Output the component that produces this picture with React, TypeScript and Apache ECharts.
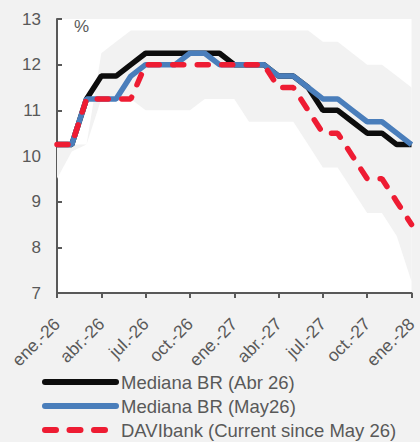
import React, { useRef, useEffect } from "react";
import * as echarts from "echarts";

const months = [
  "ene.-26", "feb.-26", "mar.-26", "abr.-26", "may.-26", "jun.-26", "jul.-26", "ago.-26", "sept.-26",
  "oct.-26", "nov.-26", "dic.-26", "ene.-27", "feb.-27", "mar.-27", "abr.-27", "may.-27", "jun.-27",
  "jul.-27", "ago.-27", "sept.-27", "oct.-27", "nov.-27", "dic.-27", "ene.-28",
];

const medianaAbr = [10.25, 10.25, 11.25, 11.75, 11.75, 12.0, 12.25, 12.25, 12.25, 12.25, 12.25, 12.25, 12.0, 12.0, 12.0, 11.75, 11.75, 11.5, 11.0, 11.0, 10.75, 10.5, 10.5, 10.25, 10.25];
const medianaMay = [10.25, 10.25, 11.25, 11.25, 11.25, 11.75, 12.0, 12.0, 12.0, 12.25, 12.25, 12.0, 12.0, 12.0, 12.0, 11.75, 11.75, 11.5, 11.25, 11.25, 11.0, 10.75, 10.75, 10.5, 10.25];
const davibank = [10.25, 10.25, 11.25, 11.25, 11.25, 11.25, 12.0, 12.0, 12.0, 12.0, 12.0, 12.0, 12.0, 12.0, 12.0, 11.5, 11.5, 11.0, 10.5, 10.5, 10.0, 9.5, 9.5, 9.0, 8.5];

const rangeLow = [9.5, 10.1, 10.25, 11.25, 11.25, 11.25, 11.0, 11.0, 11.0, 11.0, 11.25, 11.25, 11.25, 10.75, 10.75, 10.75, 10.75, 10.25, 9.75, 9.75, 9.25, 8.75, 8.75, 8.25, 7.25];
const rangeHigh = [10.25, 10.25, 10.25, 12.25, 12.5, 12.75, 12.75, 12.75, 12.75, 12.75, 12.75, 12.75, 12.75, 12.75, 12.75, 12.75, 12.75, 12.75, 12.5, 12.5, 12.25, 12.0, 12.0, 11.75, 11.5];

const names = ["Mediana BR (Abr 26)", "Mediana BR (May26)", "DAVIbank (Current since May 26)"];

const FONT = "'Liberation Sans', Arial, sans-serif";
const GREY = "#595959";

export default function App() {
  const ref = useRef<HTMLDivElement>(null);
  useEffect(() => {
    document.body.style.margin = "0";
    const chart = echarts.init(ref.current!, null, { renderer: "svg" });
    const rangeSpan = rangeHigh.map((h, i) => Math.max(0, h - rangeLow[i]));
    chart.setOption({
      animation: false,
      backgroundColor: "#f2f2f2",
      textStyle: { fontFamily: FONT },
      grid: {
        left: 57, right: 1, top: 19, bottom: 149,
        show: true, backgroundColor: "#ffffff", borderWidth: 0,
      },
      legend: {
        orient: "vertical",
        left: 42,
        top: 372,
        padding: 0,
        height: 70,
        itemWidth: 71,
        itemHeight: 6,
        itemGap: 4,
        data: names,
        itemStyle: { opacity: 0 },
        lineStyle: { width: 6, cap: "round" },
        textStyle: { fontSize: 18.5, color: GREY, fontFamily: FONT, lineHeight: 20 },
      },
      graphic: [
        { type: "text", left: 74, top: 18, style: { text: "%", fontSize: 17, fill: GREY, font: `17px ${FONT}` } },
      ],
      xAxis: {
        type: "category",
        data: months,
        boundaryGap: false,
        axisLine: { lineStyle: { color: GREY, width: 2 } },
        axisTick: { show: true, interval: 2, length: 5, lineStyle: { color: GREY, width: 2 } },
        axisLabel: { interval: 2, rotate: 45, fontSize: 17.5, color: GREY, margin: 28, fontFamily: FONT },
        splitLine: { show: false },
      },
      yAxis: {
        type: "value",
        min: 7,
        max: 13,
        interval: 1,
        axisLine: { show: true, lineStyle: { color: GREY, width: 2 } },
        axisTick: { show: true, inside: true, length: 5, lineStyle: { color: GREY, width: 2 } },
        axisLabel: { fontSize: 17, color: GREY, margin: 16, fontFamily: FONT },
        splitLine: { show: false },
      },
      series: [
        {
          name: "rangeLow", type: "line", stack: "band", data: rangeLow, symbol: "none",
          lineStyle: { opacity: 0 }, silent: true, z: 1,
        },
        {
          name: "rangeSpan", type: "line", stack: "band", data: rangeSpan, symbol: "none",
          lineStyle: { opacity: 0 }, areaStyle: { color: "#f2f2f2", opacity: 1 }, silent: true, z: 1,
        },
        {
          name: names[0], type: "line", data: medianaAbr, symbol: "none", z: 3,
          lineStyle: { color: "#0d0d0d", width: 5.5 }, itemStyle: { color: "#0d0d0d" },
        },
        {
          name: names[1], type: "line", data: medianaMay, symbol: "none", z: 4,
          lineStyle: { color: "#4a7ebb", width: 5.5 }, itemStyle: { color: "#4a7ebb" },
        },
        {
          name: names[2], type: "line", data: davibank, symbol: "none", z: 5,
          lineStyle: { color: "#ee1c33", width: 5.5, type: [11, 13.5], cap: "round" },
          itemStyle: { color: "#ee1c33" },
        },
      ],
    });
    return () => chart.dispose();
  }, []);
  return <div ref={ref} style={{ width: 420, height: 442 }} />;
}
